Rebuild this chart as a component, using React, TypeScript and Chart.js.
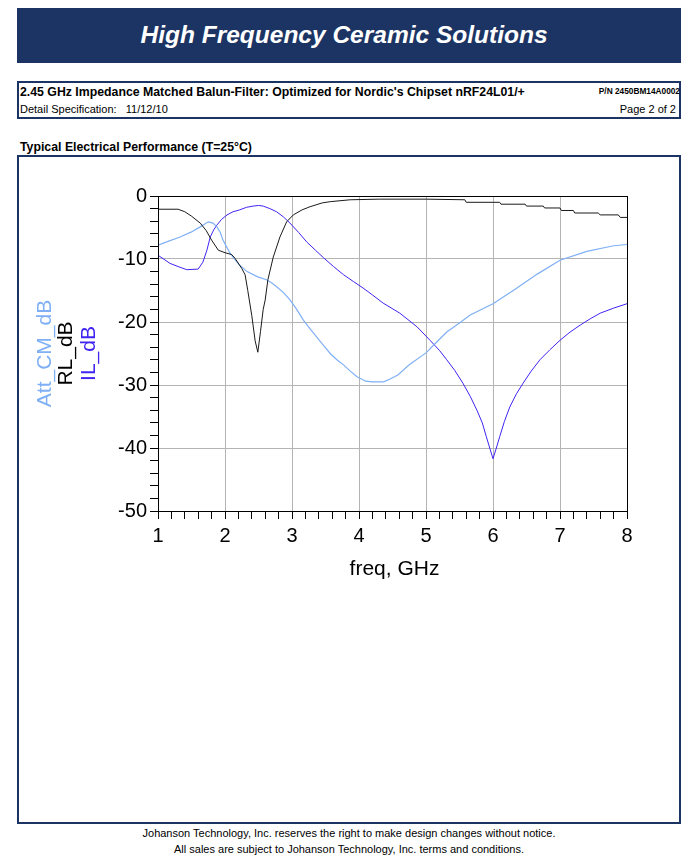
import React, { useEffect, useRef } from 'react';
import { Chart, registerables } from 'chart.js';

Chart.register(...registerables);

// ---- Data ----
const rlFreq = [1.0, 1.3, 1.4, 1.5, 1.63, 1.72, 1.8, 1.9, 2.0, 2.1, 2.15, 2.25, 2.3, 2.34, 2.4, 2.45, 2.49, 2.53, 2.57, 2.6, 2.64, 2.72, 2.82, 2.92, 3.02, 3.15, 3.27, 3.45, 3.57, 3.87, 4.3, 5.0, 5.58, 5.6, 6.1, 6.12, 6.48, 6.5, 6.75, 6.77, 7.0, 7.02, 7.2, 7.22, 7.57, 7.6, 7.87, 7.9, 8.0];
const rlDb = [-2.1, -2.1, -2.5, -3.2, -4.3, -5.5, -7.0, -8.6, -9.0, -9.3, -9.9, -11.5, -12.5, -15.0, -19.0, -23.0, -24.8, -21.5, -18.0, -16.5, -13.3, -9.7, -6.5, -4.1, -3.0, -2.2, -1.7, -1.1, -0.9, -0.6, -0.5, -0.5, -0.6, -1.0, -1.0, -1.3, -1.3, -1.6, -1.6, -1.9, -1.9, -2.3, -2.3, -2.7, -2.7, -3.0, -3.0, -3.4, -3.4];

const attFreq = [1.0, 1.15, 1.33, 1.5, 1.63, 1.75, 1.82, 1.88, 1.93, 1.97, 2.02, 2.07, 2.15, 2.22, 2.33, 2.48, 2.62, 2.7, 2.77, 2.87, 2.97, 3.07, 3.17, 3.27, 3.37, 3.47, 3.57, 3.67, 3.77, 3.87, 3.97, 4.1, 4.2, 4.37, 4.47, 4.58, 4.75, 5.0, 5.15, 5.31, 5.52, 5.66, 6.0, 6.33, 6.66, 7.0, 7.4, 7.8, 8.0];
const attDb = [-7.8, -7.2, -6.5, -5.7, -4.9, -4.1, -4.3, -4.9, -5.8, -7.0, -8.0, -9.0, -10.1, -11.0, -12.0, -12.8, -13.3, -13.8, -14.4, -15.3, -16.5, -18.0, -19.7, -21.1, -22.4, -23.7, -25.0, -26.0, -26.8, -27.8, -28.7, -29.4, -29.5, -29.5, -29.0, -28.4, -26.8, -24.9, -23.3, -21.6, -20.0, -18.9, -17.1, -14.8, -12.4, -10.2, -8.8, -7.9, -7.7];

const ilFreq = [1.0, 1.18, 1.3, 1.43, 1.6, 1.67, 1.73, 1.78, 1.83, 1.88, 1.95, 2.03, 2.12, 2.22, 2.32, 2.42, 2.5, 2.57, 2.67, 2.77, 2.87, 2.97, 3.1, 3.22, 3.35, 3.47, 3.62, 3.77, 3.92, 4.06, 4.2, 4.36, 4.61, 4.87, 5.06, 5.2, 5.31, 5.43, 5.55, 5.66, 5.76, 5.84, 5.9, 5.96, 6.0, 6.05, 6.1, 6.17, 6.25, 6.35, 6.45, 6.57, 6.7, 6.85, 7.0, 7.15, 7.3, 7.45, 7.6, 7.8, 8.0];
const ilDb = [-9.4, -10.7, -11.2, -11.7, -11.6, -10.5, -8.6, -6.5, -5.4, -4.6, -3.7, -3.0, -2.5, -2.2, -1.8, -1.6, -1.5, -1.6, -2.0, -2.5, -3.3, -4.3, -5.8, -7.3, -8.6, -9.8, -11.2, -12.5, -13.6, -14.6, -15.7, -17.0, -18.6, -20.8, -22.9, -24.5, -26.0, -27.7, -29.7, -31.8, -34.0, -36.0, -38.2, -40.3, -41.7, -40.0, -38.2, -35.8, -33.5, -31.4, -29.7, -27.8, -26.0, -24.4, -22.9, -21.6, -20.5, -19.5, -18.6, -17.8, -17.1];

const xTickLabels = ['1', '2', '3', '4', '5', '6', '7', '8'];
const yTickLabels = ['0', '-10', '-20', '-30', '-40', '-50'];

const seriesNames = ['Att_CM_dB', 'RL_dB', 'IL_dB'];
const xTitle = 'freq, GHz';

const NAVY = '#1c3463';
const COL_ATT = '#7fb0f5';
const COL_RL = '#1a1a1a';
const COL_IL = '#3f24f2';
const FONT = '"Liberation Sans", Arial, sans-serif';

const toPts = (xs: number[], ys: number[]) => xs.map((x, i) => ({ x, y: ys[i] }));
const isInt = (v: number) => Math.abs(v - Math.round(v)) < 1e-6;

const framePlugin = {
  id: 'frameAndTitles',
  afterDraw(chart: any) {
    const { ctx, chartArea } = chart;
    const { left, right, top, bottom } = chartArea;
    ctx.save();
    ctx.strokeStyle = '#000';
    ctx.lineWidth = 1;
    ctx.strokeRect(Math.round(left) + 0.5, Math.round(top) + 0.5, Math.round(right - left), Math.round(bottom - top));

    // x axis title
    ctx.fillStyle = '#000';
    ctx.font = `21px ${FONT}`;
    ctx.textAlign = 'center';
    ctx.textBaseline = 'middle';
    ctx.fillText(xTitle, (left + right) / 2 + 2, bottom + 58);

    // y axis titles (three coloured, rotated)
    const cy = (top + bottom) / 2;
    const cols = [COL_ATT, '#000', COL_IL];
    const xs = [left - 113, left - 92, left - 69];
    for (let i = 0; i < 3; i++) {
      ctx.save();
      ctx.translate(xs[i], cy);
      ctx.rotate(-Math.PI / 2);
      ctx.fillStyle = cols[i];
      ctx.fillText(seriesNames[i], 0, 0);
      ctx.restore();
    }
    ctx.restore();
  },
};

function PerfChart() {
  const ref = useRef<HTMLCanvasElement | null>(null);
  useEffect(() => {
    if (!ref.current) return;
    const chart = new Chart(ref.current, {
      type: 'line',
      data: {
        datasets: [
          { label: seriesNames[1], data: toPts(rlFreq, rlDb), borderColor: COL_RL, borderWidth: 1, pointRadius: 0, fill: false, tension: 0 },
          { label: seriesNames[0], data: toPts(attFreq, attDb), borderColor: COL_ATT, borderWidth: 1.2, pointRadius: 0, fill: false, tension: 0 },
          { label: seriesNames[2], data: toPts(ilFreq, ilDb), borderColor: COL_IL, borderWidth: 1, pointRadius: 0, fill: false, tension: 0 },
        ],
      },
      options: {
        responsive: false,
        animation: false,
        devicePixelRatio: 1,
        layout: { padding: { top: 39, right: 52, left: 0, bottom: 0 } },
        plugins: { legend: { display: false }, tooltip: { enabled: false } },
        scales: {
          x: {
            type: 'linear',
            min: 1,
            max: 8,
            afterFit: (s: any) => { s.height = 80; },
            ticks: {
              stepSize: 0.2,
              autoSkip: false,
              maxRotation: 0,
              padding: 5,
              color: '#000',
              font: { family: FONT, size: 20 },
              callback: (v: any) => {
                const n = Number(v);
                if (!isInt(n)) return '';
                const idx = Math.round(n) - 1;
                return xTickLabels[idx] ?? '';
              },
            },
            grid: {
              color: (c: any) => (c.tick && isInt(c.tick.value) ? '#b4b4b4' : 'rgba(0,0,0,0)'),
              tickColor: '#000',
              tickLength: 8,
              lineWidth: 1,
            },
            border: { display: true, color: '#000', width: 1 },
          },
          y: {
            type: 'linear',
            min: -50,
            max: 0,
            afterFit: (s: any) => { s.width = 139; },
            ticks: {
              stepSize: 2,
              autoSkip: false,
              padding: 3,
              color: '#000',
              font: { family: FONT, size: 20 },
              callback: (v: any) => {
                const n = Number(v);
                if (!isInt(n) || Math.round(n) % 10 !== 0) return '';
                const idx = Math.round(-n / 10);
                return yTickLabels[idx] ?? '';
              },
            },
            grid: {
              color: (c: any) => (c.tick && isInt(c.tick.value) && Math.round(c.tick.value) % 10 === 0 ? '#b4b4b4' : 'rgba(0,0,0,0)'),
              tickColor: '#000',
              tickLength: 8,
              lineWidth: 1,
            },
            border: { display: true, color: '#000', width: 1 },
          },
        },
      },
      plugins: [framePlugin],
    } as any);
    return () => chart.destroy();
  }, []);
  return <canvas ref={ref} width={660} height={434} style={{ position: 'absolute', left: 19, top: 157, width: 660, height: 434 }} />;
}

export default function App() {
  const base: React.CSSProperties = { position: 'absolute', fontFamily: FONT, color: '#000', whiteSpace: 'nowrap', lineHeight: 1 };
  return (
    <div style={{ position: 'absolute', left: 0, top: 0, width: 698, height: 862, background: '#fff', overflow: 'hidden' }}>
      <div style={{ position: 'absolute', left: 17, top: 8, width: 664, height: 55, background: NAVY }}>
        <div style={{ position: 'absolute', left: 0, width: 654, top: 15, textAlign: 'center', color: '#fff', fontFamily: FONT, fontWeight: 'bold', fontStyle: 'italic', fontSize: 24.5, lineHeight: 1, whiteSpace: 'nowrap' }}>High Frequency Ceramic Solutions</div>
      </div>
      <div style={{ position: 'absolute', left: 17, top: 81, width: 664, height: 38, boxSizing: 'border-box', border: `2px solid ${NAVY}` }} />
      <div style={{ ...base, left: 20, top: 86, fontSize: 12.3, fontWeight: 'bold' }}>2.45 GHz Impedance Matched Balun-Filter: Optimized for Nordic's Chipset nRF24L01/+</div>
      <div style={{ ...base, right: 18, top: 87, fontSize: 8.3, fontWeight: 'bold' }}>P/N 2450BM14A0002</div>
      <div style={{ ...base, left: 20, top: 104, fontSize: 11 }}>Detail Specification:&nbsp;&nbsp;&nbsp;11/12/10</div>
      <div style={{ ...base, right: 22, top: 104, fontSize: 11 }}>Page 2 of 2</div>
      <div style={{ ...base, left: 20, top: 141, fontSize: 12.3, fontWeight: 'bold' }}>Typical Electrical Performance (T=25°C)</div>
      <div style={{ position: 'absolute', left: 17, top: 155, width: 664, height: 669, boxSizing: 'border-box', border: `2px solid ${NAVY}` }} />
      <PerfChart />
      <div style={{ ...base, left: 0, width: 698, top: 828, fontSize: 11, textAlign: 'center' }}>Johanson Technology, Inc. reserves the right to make design changes without notice.</div>
      <div style={{ ...base, left: 0, width: 698, top: 844, fontSize: 11, textAlign: 'center' }}>All sales are subject to Johanson Technology, Inc. terms and conditions.</div>
    </div>
  );
}
